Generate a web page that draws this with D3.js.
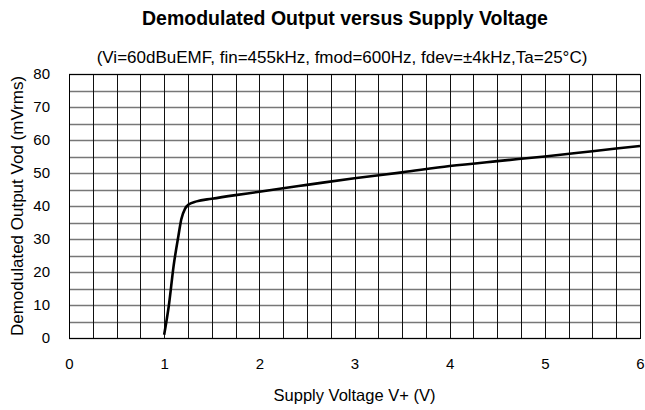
<!DOCTYPE html>
<html>
<head>
<meta charset="utf-8">
<script src="https://cdn.jsdelivr.net/npm/d3@7"></script>
<style>
  body { margin: 0; background: #fff; }
  svg { display: block; font-family: Arial, "Liberation Sans", sans-serif; }
</style>
</head>
<body>
<svg id="svg" width="645" height="410"></svg>
<script>
// DATA
const supplyV = [1.0, 1.05, 1.1, 1.15, 1.18, 1.22, 1.26, 1.34, 1.5, 1.75, 2.0, 2.25, 2.5, 3.0, 3.5, 4.0, 4.5, 5.0, 5.5, 6.0];
const vod = [1, 10, 22, 31, 36, 39.2, 40.5, 41.4, 42.2, 43.3, 44.3, 45.4, 46.4, 48.4, 50.2, 52.1, 53.6, 55.0, 56.6, 58.2];
const xTicks = [0, 1, 2, 3, 4, 5, 6];
const yTicks = [0, 10, 20, 30, 40, 50, 60, 70, 80];

const title = "Demodulated Output versus Supply Voltage";
const subtitle = "(Vi=60dBuEMF, fin=455kHz, fmod=600Hz, fdev=±4kHz,Ta=25°C)";
const xLabel = "Supply Voltage V+ (V)";
const yLabel = "Demodulated Output Vod (mVrms)";

// VARIABLES
const width = 645;
const height = 410;
const margin = { top: 74, right: 5, bottom: 72, left: 69 };

const x = d3.scaleLinear().domain([0, 6]).range([margin.left, width - margin.right]);
const y = d3.scaleLinear().domain([0, 80]).range([height - margin.bottom, margin.top]);

const svg = d3.select("#svg");

// GRID
svg
  .append("g")
  .selectAll("line")
  .data(d3.range(0, 80.01, 5))
  .enter()
  .append("line")
  .attr("x1", x(0))
  .attr("x2", x(6))
  .attr("y1", d => Math.round(y(d)) + 0.5)
  .attr("y2", d => Math.round(y(d)) + 0.5)
  .attr("stroke", "#777")
  .attr("stroke-width", 1.3);

svg
  .append("g")
  .selectAll("line")
  .data(d3.range(0, 6.01, 0.25))
  .enter()
  .append("line")
  .attr("x1", d => Math.round(x(d)) + 0.5)
  .attr("x2", d => Math.round(x(d)) + 0.5)
  .attr("y1", y(0))
  .attr("y2", y(80))
  .attr("stroke", "#111")
  .attr("stroke-width", 1);

// frame
svg
  .append("rect")
  .attr("x", Math.round(x(0)) + 0.5)
  .attr("y", Math.round(y(80)) + 0.5)
  .attr("width", Math.round(x(6)) - Math.round(x(0)))
  .attr("height", Math.round(y(0)) - Math.round(y(80)))
  .attr("fill", "none")
  .attr("stroke", "#000")
  .attr("stroke-width", 1);

// AXES (labels only)
const xAxis = d3.axisBottom(x).tickValues(xTicks).tickFormat(d3.format("d")).tickSize(0).tickPadding(20);
const yAxis = d3.axisLeft(y).tickValues(yTicks).tickFormat(d3.format("d")).tickSize(0).tickPadding(19);

svg
  .append("g")
  .attr("transform", `translate(0,${y(0)})`)
  .call(xAxis)
  .call(g => g.select(".domain").remove())
  .selectAll("text")
  .style("font-size", "15px")
  .attr("fill", "#000");

svg
  .append("g")
  .attr("transform", `translate(${x(0)},0)`)
  .call(yAxis)
  .call(g => g.select(".domain").remove())
  .selectAll("text")
  .style("font-size", "15px")
  .attr("fill", "#000");

// CURVE
const pts = supplyV.map((v, i) => [v, vod[i]]);
const line = d3
  .line()
  .x(d => x(d[0]))
  .y(d => y(d[1]))
  .curve(d3.curveMonotoneX);

svg
  .append("path")
  .datum(pts)
  .attr("fill", "none")
  .attr("stroke", "#000")
  .attr("stroke-width", 2.6)
  .attr("stroke-linejoin", "round")
  .attr("d", line);

// TEXT
svg
  .append("text")
  .attr("x", 345)
  .attr("y", 25)
  .attr("text-anchor", "middle")
  .style("font-size", "19.5px")
  .style("font-weight", "bold")
  .text(title);

svg
  .append("text")
  .attr("x", 342)
  .attr("y", 63)
  .attr("text-anchor", "middle")
  .style("font-size", "17px")
  .text(subtitle);

svg
  .append("text")
  .attr("x", (x(0) + x(6)) / 2)
  .attr("y", 401)
  .attr("text-anchor", "middle")
  .style("font-size", "16.5px")
  .text(xLabel);

svg
  .append("text")
  .attr("transform", `translate(23,${(y(0) + y(80)) / 2}) rotate(-90)`)
  .attr("text-anchor", "middle")
  .style("font-size", "17px")
  .text(yLabel);
</script>
</body>
</html>
